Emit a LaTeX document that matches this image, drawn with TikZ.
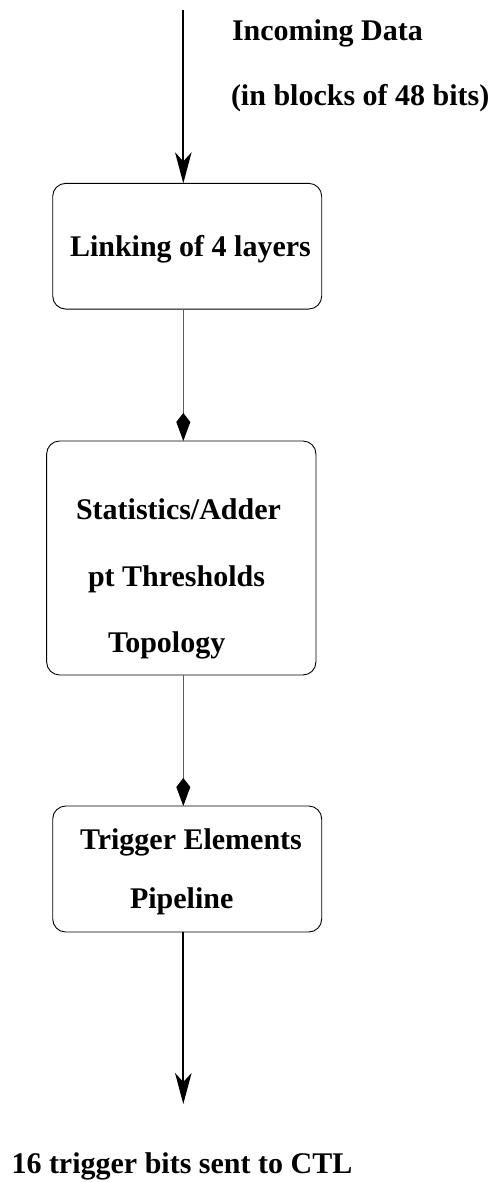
\documentclass[tikz,border=0pt]{standalone}
\usepackage{fontspec}
\setmainfont{Liberation Serif}
\usetikzlibrary{arrows.meta}

\tikzset{
  stage/.style={draw=black, line width=0.9pt, rounded corners=13pt,
                inner sep=0pt, outer sep=0pt},
  label/.style={anchor=base west, inner sep=0pt, outer sep=0pt,
                font=\fontsize{30}{36}\selectfont\bfseries},
  flow/.style={line width=2pt, -{Stealth[length=31pt,width=16.5pt,inset=9pt]}},
  link/.style={line width=1.2pt, draw=black!65,
               -{Kite[length=28pt,width=14pt,inset=9pt,fill=black,color=black]}}
}

\begin{document}
\begin{tikzpicture}[x=1pt,y=-1pt]
  \useasboundingbox (0,0) rectangle (493,1182);

  % processing stages
  \node[stage, minimum width=269pt, minimum height=125.7pt] (link4) at (187.2,246.2) {};
  \node[stage, minimum width=269.3pt, minimum height=234pt] (stats) at (181.3,558) {};
  \node[stage, minimum width=269pt, minimum height=126pt] (pipe) at (187.2,869) {};

  % stage texts
  \node[label] (tLink) at (70,256) {Linking of 4 layers};
  \node[label] (tStat) at (76,519) {Statistics/Adder};
  \node[label] (tPt)   at (88,586) {pt Thresholds};
  \node[label] (tTopo) at (108,652) {Topology};
  \node[label] (tTrig) at (80,849) {Trigger Elements};
  \node[label] (tPipe) at (130,908) {Pipeline};

  % input and output texts
  \node[label] (tIn1) at (232,41) {Incoming Data};
  \node[label] (tIn2) at (231,106) {(in blocks of 48 bits)};
  \node[label] (tOut) at (11.5,1173) {16 trigger bits sent to CTL};

  % data path
  \coordinate (in)  at (183.3,10);
  \coordinate (out) at (183.3,1104);
  \draw[flow] (in) -- (link4.north -| in);
  \draw[link] (link4.south -| in) -- (stats.north -| in);
  \draw[link] (stats.south -| in) -- (pipe.north -| in);
  \draw[flow] (pipe.south -| in) -- (out);
\end{tikzpicture}
\end{document}
